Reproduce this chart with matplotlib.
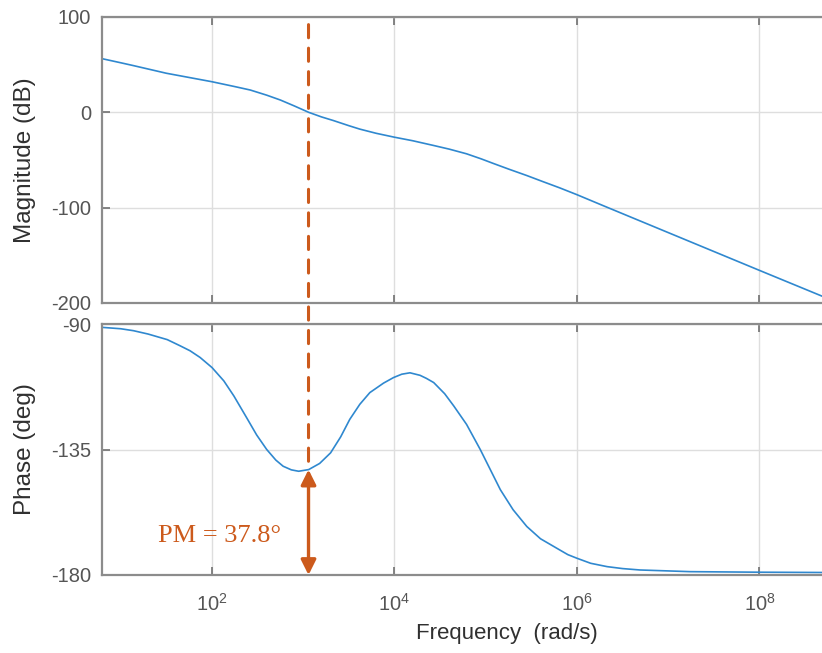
import numpy as np
import matplotlib
matplotlib.use('Agg')
import matplotlib.pyplot as plt
from matplotlib.patches import ConnectionPatch

plt.rcParams['font.family'] = ['Liberation Sans', 'DejaVu Sans']
plt.rcParams['axes.unicode_minus'] = False
plt.rcParams['mathtext.fontset'] = 'custom'
plt.rcParams['mathtext.rm'] = 'Liberation Sans'

# magnitude curve (log10 of rad/s, dB)
mag_logw = [0.795, 1.0, 1.14, 1.5, 2.0, 2.25, 2.42, 2.6, 2.75, 2.9,
            3.06, 3.2, 3.33, 3.5, 3.62, 3.8, 4.0, 4.2, 4.43, 4.6,
            4.79, 4.95, 5.08, 5.25, 5.45, 5.63, 5.81, 6.0, 6.3, 8.0, 8.69]
mag_db = [56.3, 52.0, 49.0, 41.0, 32.1, 27.0, 23.4, 18.0, 12.9, 6.8,
          0.0, -4.8, -8.6, -14.0, -17.6, -22.0, -26.1, -29.8, -34.8, -38.6,
          -43.5, -48.8, -53.5, -59.5, -66.3, -72.8, -79.2, -86.4, -98.4, -165.8, -193.0]

# phase curve (log10 of rad/s, deg)
ph_logw = [0.795, 1.0, 1.14, 1.3, 1.51, 1.65, 1.76, 1.87, 2.0, 2.13,
           2.24, 2.38, 2.49, 2.60, 2.70, 2.78, 2.87, 2.95, 3.06, 3.18,
           3.30, 3.41, 3.51, 3.62, 3.73, 3.88, 3.99, 4.08, 4.17, 4.28,
           4.35, 4.43, 4.55, 4.65, 4.79, 4.94, 5.05, 5.16, 5.30, 5.45,
           5.60, 5.81, 5.9, 6.0, 6.15, 6.33, 6.5, 6.69, 7.24, 8.0, 8.69]
ph_deg = [-91.2, -91.7, -92.4, -93.6, -95.6, -97.8, -99.6, -102.0, -105.6, -110.4,
          -115.8, -123.6, -129.8, -135.0, -138.8, -141.0, -142.3, -142.8, -142.2, -140.0,
          -136.2, -130.5, -124.2, -118.8, -114.6, -111.2, -109.2, -108.0, -107.5, -108.4,
          -109.5, -111.0, -115.0, -119.4, -126.0, -135.0, -142.2, -149.4, -156.6, -162.6,
          -167.0, -171.0, -172.7, -174.0, -175.8, -177.0, -177.7, -178.2, -178.8, -179.0, -179.1]

w_c = 1.143e3      # gain crossover
pm = 37.8          # phase margin
pm_text = 'PM = 37.8\u00b0'

mag_w = 10 ** np.array(mag_logw)
ph_w = 10 ** np.array(ph_logw)

blue = '#2f88cf'
orange = '#cc5a1c'
spine_c = '#8c8c8c'
grid_c = '#dedede'
tick_c = '#555555'

fig = plt.figure(figsize=(8.22, 6.53), dpi=100)
W, H = 822.0, 653.0
ax1 = fig.add_axes([102 / W, 1 - 303 / H, 720 / W, 286 / H])
ax2 = fig.add_axes([102 / W, 1 - 575 / H, 720 / W, 251 / H])

ax1.plot(mag_w, mag_db, color=blue, lw=1.2)
ax2.plot(ph_w, ph_deg, color=blue, lw=1.2)

xlim = (10 ** 0.795, 10 ** 8.685)
for ax in (ax1, ax2):
    ax.set_xscale('log')
    ax.set_xlim(xlim)
    ax.set_xticks([1e2, 1e4, 1e6, 1e8])
    ax.minorticks_off()
    ax.grid(True, color=grid_c, lw=1.0)
    ax.set_axisbelow(True)
    for s in ('left', 'top', 'bottom'):
        ax.spines[s].set_color(spine_c)
        ax.spines[s].set_linewidth(1.6)
    ax.spines['right'].set_visible(False)
    ax.tick_params(direction='in', top=True, length=6, width=1.2, color='#707070',
                   labelsize=14.5, labelcolor=tick_c)
    ax.tick_params(axis='y', pad=8)
    ax.tick_params(axis='x', pad=13)

ax1.set_ylim(-200, 100)
ax1.set_yticks([-200, -100, 0, 100])
ax1.tick_params(labelbottom=False)
ax2.set_ylim(-180, -90)
ax2.set_yticks([-180, -135, -90])

ax1.set_ylabel('Magnitude (dB)', fontsize=17.5, color='#303030')
ax2.set_ylabel('Phase (deg)', fontsize=17.5, color='#303030')
ax1.yaxis.set_label_coords(-0.092, 0.5)
ax2.yaxis.set_label_coords(-0.092, 0.5)
ax2.set_xlabel('Frequency  (rad/s)', fontsize=16, color='#303030')
ax2.xaxis.set_label_coords(0.5625, -0.19)

# crossover line through both panels
con = ConnectionPatch(xyA=(w_c, 92), coordsA=ax1.transData,
                      xyB=(w_c, -180 + pm), coordsB=ax2.transData,
                      color=orange, lw=2.2, linestyle=(0, (4.3, 3.4)))
fig.add_artist(con)

ax2.annotate('', xy=(w_c, -180), xytext=(w_c, -180 + pm),
             arrowprops=dict(arrowstyle='<|-|>,head_length=0.9,head_width=0.45',
                             lw=2.4, color=orange, shrinkA=0, shrinkB=0))
ax2.text(10 ** 1.41, -166, pm_text, family=['Liberation Serif', 'DejaVu Serif'],
         fontsize=19, color=orange, ha='left', va='center')

fig.savefig('out.png', dpi=100)
